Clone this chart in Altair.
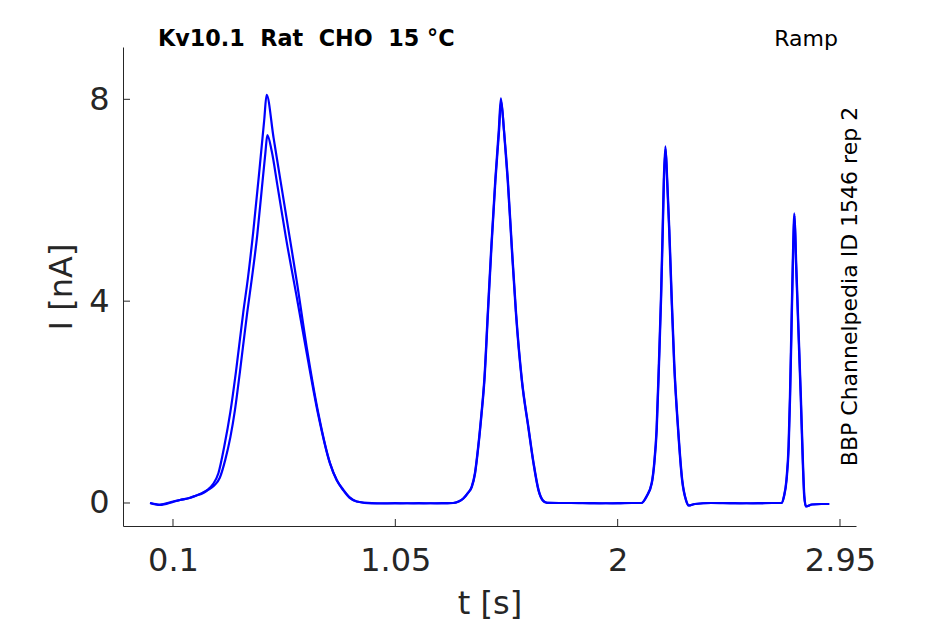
import altair as alt
import pandas as pd

# ---------------- data ----------------
# sweep A (higher first peak)
t_a = [0.002, 0.044, 0.10, 0.13, 0.17, 0.20, 0.225, 0.247, 0.272, 0.294, 0.319, 0.345, 0.369, 0.400, 0.420, 0.443,
       0.470, 0.490, 0.500, 0.530, 0.560, 0.597, 0.628, 0.671, 0.721, 0.771, 0.800, 0.828, 0.855, 0.885,
       0.95, 1.05, 1.15, 1.25, 1.297, 1.320, 1.340, 1.360, 1.376, 1.390, 1.404, 1.418, 1.430, 1.445,
       1.460, 1.477, 1.492, 1.501, 1.514, 1.530, 1.547, 1.565, 1.590, 1.618, 1.640, 1.661, 1.680, 1.697,
       1.80, 1.90, 2.00, 2.06, 2.102, 2.123, 2.145, 2.156, 2.166, 2.176, 2.185, 2.192, 2.197, 2.204,
       2.211, 2.220, 2.230, 2.241, 2.258, 2.275, 2.292, 2.302, 2.33, 2.40, 2.50, 2.60, 2.66, 2.700,
       2.710, 2.721, 2.730, 2.736, 2.742, 2.748, 2.755, 2.762, 2.772, 2.782, 2.791, 2.797, 2.804,
       2.83, 2.87, 2.904]
i_a = [0.00, -0.04, 0.02, 0.06, 0.10, 0.15, 0.20, 0.26, 0.38, 0.59, 1.12, 1.80, 2.60, 3.77, 4.45, 5.38,
       6.63, 7.60, 8.09, 7.23, 6.37, 5.31, 4.42, 3.10, 1.78, 0.79, 0.45, 0.26, 0.11, 0.03,
       -0.01, 0.00, -0.01, 0.00, 0.00, 0.03, 0.09, 0.20, 0.32, 0.59, 1.12, 1.78, 2.44, 3.77,
       5.08, 6.40, 7.39, 8.02, 7.39, 6.40, 5.08, 3.77, 2.44, 1.50, 0.79, 0.26, 0.05, 0.00,
       0.00, -0.01, 0.00, 0.00, 0.00, 0.13, 0.39, 0.79, 1.45, 2.77, 4.09, 5.41, 6.40, 7.07,
       6.40, 5.41, 4.09, 2.77, 1.45, 0.46, 0.05, -0.05, -0.02, 0.00, -0.01, 0.00, 0.00, 0.00,
       0.13, 0.46, 1.12, 2.11, 3.43, 4.75, 5.74, 4.75, 3.43, 2.11, 0.79, 0.13, -0.07,
       -0.03, -0.02, -0.02]

# sweep B (lower first peak)
t_b = [0.002, 0.044, 0.10, 0.13, 0.17, 0.20, 0.225, 0.247, 0.275, 0.300, 0.323, 0.345, 0.365, 0.386, 0.417, 0.437,
       0.460, 0.480, 0.495, 0.503, 0.522, 0.546, 0.583, 0.628, 0.671, 0.721, 0.771, 0.800, 0.828,
       0.855, 0.885, 0.95, 1.05, 1.15, 1.25, 1.297, 1.321, 1.341, 1.361, 1.377, 1.391, 1.405, 1.419,
       1.431, 1.446, 1.461, 1.478, 1.493, 1.502, 1.515, 1.531, 1.548, 1.566, 1.591, 1.619, 1.641,
       1.662, 1.681, 1.698, 1.80, 1.90, 2.00, 2.06, 2.102, 2.124, 2.146, 2.157, 2.167, 2.177, 2.186,
       2.193, 2.198, 2.205, 2.212, 2.221, 2.231, 2.242, 2.259, 2.276, 2.293, 2.303, 2.33, 2.40,
       2.50, 2.60, 2.66, 2.700, 2.711, 2.722, 2.731, 2.737, 2.743, 2.749, 2.756, 2.763, 2.773,
       2.783, 2.792, 2.798, 2.805, 2.83, 2.87, 2.904]
i_b = [0.00, -0.03, 0.03, 0.06, 0.10, 0.15, 0.19, 0.25, 0.34, 0.50, 0.85, 1.30, 1.85, 2.60, 3.77, 4.45,
       5.31, 6.25, 6.95, 7.29, 6.97, 6.30, 5.25, 4.10, 2.98, 1.74, 0.78, 0.45, 0.25,
       0.10, 0.03, 0.00, -0.01, 0.00, -0.01, 0.00, 0.03, 0.09, 0.20, 0.32, 0.59, 1.12, 1.78,
       2.44, 3.77, 5.08, 6.40, 7.35, 7.96, 7.35, 6.40, 5.08, 3.77, 2.44, 1.50, 0.79,
       0.26, 0.05, 0.01, 0.00, 0.00, -0.01, 0.00, 0.00, 0.13, 0.39, 0.79, 1.45, 2.77, 4.09,
       5.41, 6.40, 7.02, 6.40, 5.41, 4.09, 2.77, 1.45, 0.46, 0.05, -0.05, -0.02, 0.00,
       0.00, -0.01, 0.00, 0.00, 0.13, 0.46, 1.12, 2.11, 3.43, 4.75, 5.70, 4.75, 3.43,
       2.11, 0.79, 0.13, -0.07, -0.03, -0.02, -0.02]

x_ticks = [0.1, 1.05, 2, 2.95]
y_ticks = [0, 4, 8]
x_domain = [-0.1136, 3.0184]
y_domain = [-0.456, 9.037]

NB2 = "\u00a0\u00a0"
title_text = NB2.join(["Kv10.1", "Rat", "CHO", "15\u00a0\u00b0C"])
protocol_text = "Ramp"
source_text = "BBP Channelpedia ID 1546 rep 2"

# ---------------- tables ----------------
df = pd.concat([
    pd.DataFrame({"t": t_a, "I": i_a, "sweep": "A"}),
    pd.DataFrame({"t": t_b, "I": i_b, "sweep": "B"}),
], ignore_index=True)

W, H = 733, 479
FONT = "DejaVu Sans"
AX = "#262626"

x_px = W / (x_domain[1] - x_domain[0])
y_px = H / (y_domain[1] - y_domain[0])
tick_len = 7

xt = pd.DataFrame({"t": x_ticks, "y0": y_domain[0], "y1": y_domain[0] + tick_len / y_px})
yt = pd.DataFrame({"I": y_ticks, "x0": x_domain[0], "x1": x_domain[0] + tick_len / x_px})

xscale = alt.Scale(domain=x_domain, nice=False, zero=False)
yscale = alt.Scale(domain=y_domain, nice=False, zero=False)

xaxis = alt.Axis(values=x_ticks, labelExpr="format(datum.value, '~g')", ticks=False, grid=False,
                 labelPadding=19, labelFontSize=32, labelFont=FONT, labelColor=AX, domainColor=AX,
                 domainWidth=1, title="t [s]", titleFont=FONT, titleFontSize=32,
                 titleFontWeight="normal", titleColor=AX, titleBaseline="alphabetic", titleY=87,
                 titleX=W / 2, titleAlign="center")
yaxis = alt.Axis(values=y_ticks, labelExpr="format(datum.value, '~g')", ticks=False, grid=False,
                 labelPadding=14, labelFontSize=32, labelFont=FONT, labelColor=AX, domainColor=AX,
                 domainWidth=1, title="I [nA]", titleFont=FONT, titleFontSize=32,
                 titleFontWeight="normal", titleColor=AX, titleAngle=270, titleBaseline="alphabetic",
                 titleX=-52, titleY=H / 2, titleAlign="center")

lines = alt.Chart(df).mark_line(strokeWidth=2.2, color="#0000FF", interpolate="monotone").encode(
    x=alt.X("t:Q", scale=xscale, axis=xaxis),
    y=alt.Y("I:Q", scale=yscale, axis=yaxis),
    detail="sweep:N",
    order="t:Q",
)

xtick_layer = alt.Chart(xt).mark_rule(color=AX, strokeWidth=1).encode(
    x=alt.X("t:Q", scale=xscale), y=alt.Y("y0:Q", scale=yscale), y2="y1:Q")
ytick_layer = alt.Chart(yt).mark_rule(color=AX, strokeWidth=1).encode(
    y=alt.Y("I:Q", scale=yscale), x=alt.X("x0:Q", scale=xscale), x2="x1:Q")

labels = pd.DataFrame({"title": [title_text], "protocol": [protocol_text], "source": [source_text]})
title_layer = alt.Chart(labels).mark_text(
    font=FONT, fontSize=22.3, fontWeight="bold", color="#000000", align="left",
    baseline="alphabetic").encode(text="title:N", x=alt.value(35), y=alt.value(-1))
protocol_layer = alt.Chart(labels).mark_text(
    font=FONT, fontSize=22, color="#000000", align="right",
    baseline="alphabetic").encode(text="protocol:N", x=alt.value(715), y=alt.value(-1))
source_layer = alt.Chart(labels).mark_text(
    font=FONT, fontSize=22, color="#000000", align="center", angle=270,
    baseline="alphabetic").encode(text="source:N", x=alt.value(734), y=alt.value(H / 2))

chart = alt.layer(lines, xtick_layer, ytick_layer, title_layer, protocol_layer, source_layer).properties(
    width=W, height=H,
    padding={"left": 115, "top": 39, "right": 60, "bottom": 96},
    autosize=alt.AutoSizeParams(type="none"),
    background="white",
).configure_view(stroke=None)

chart.save("out.html", embed_options={"renderer": "svg", "actions": False})
